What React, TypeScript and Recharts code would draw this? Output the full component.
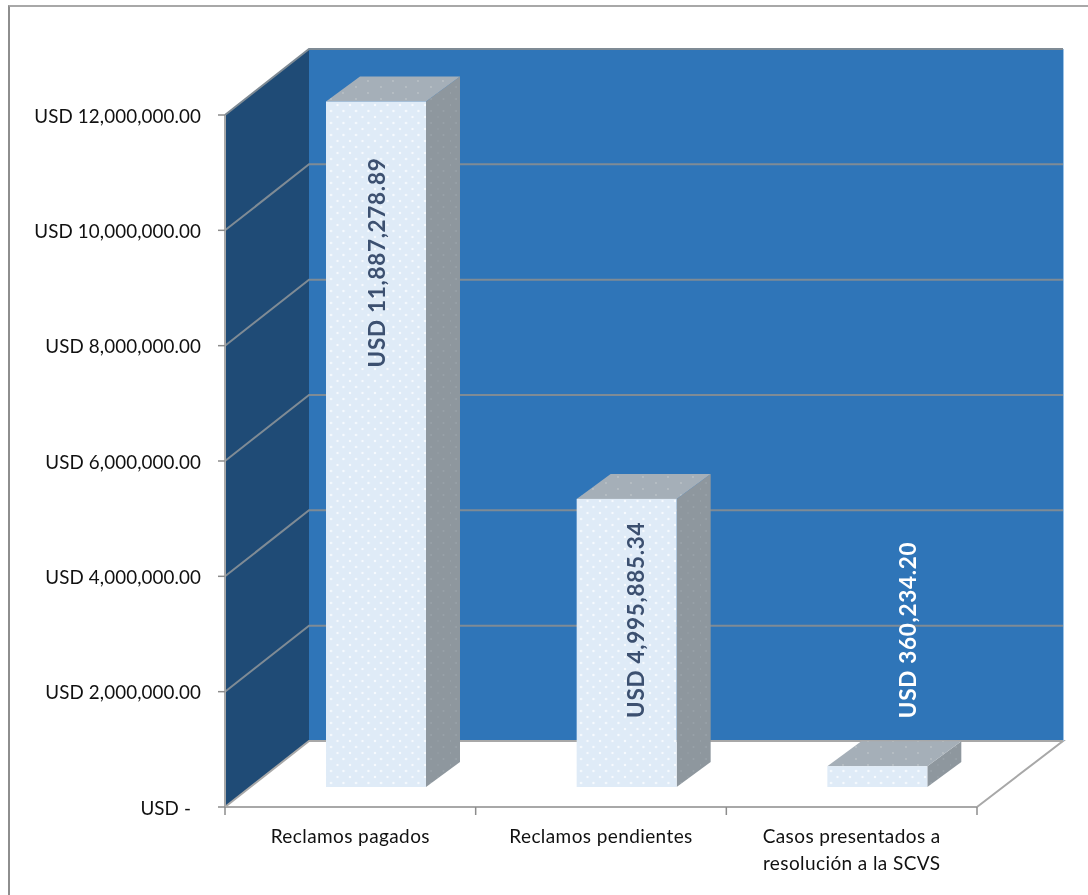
import React from "react";
import { BarChart, Bar, XAxis, YAxis, ReferenceArea, LabelList } from "recharts";

const categories = ["Reclamos pagados", "Reclamos pendientes", "Casos presentados a resolución a la SCVS"];
const categoryLines = [["Reclamos pagados"], ["Reclamos pendientes"], ["Casos presentados a", "resolución a la SCVS"]];
const values = [11887278.89, 4995885.34, 360234.2];
const valueLabels = ["USD 11,887,278.89", "USD 4,995,885.34", "USD 360,234.20"];
const yTicks = [0, 2000000, 4000000, 6000000, 8000000, 10000000, 12000000];
const yTickLabels = ["USD -", "USD 2,000,000.00", "USD 4,000,000.00", "USD 6,000,000.00", "USD 8,000,000.00", "USD 10,000,000.00", "USD 12,000,000.00"];

const data = categories.map((name, i) => ({ name, value: values[i], label: valueLabels[i] }));

const FONT = "Lato, 'Open Sans', sans-serif";
const WALL_DX = 84;
const WALL_DX_RIGHT = 86;
const WALL_DY = -66;
const BAR_DX = 26;
const BAR_DY = -20;
const SIDE_DX = 34;
const SIDE_DY = -25;
const LINE = "#7f8b95";
const labelPlacement = [
  { dx: 0, fromTop: 266, color: "#3c5070" },
  { dx: 9, fromTop: 219, color: "#3c5070" },
  { dx: 30, fromTop: -48, color: "#ffffff" },
];

const pts = (p: number[][]) => p.map((a) => a.join(",")).join(" ");

function Walls(props: any) {
  const { x, y, width, height } = props;
  const y0 = y + height;
  const r = x + width;
  const backR = r + WALL_DX_RIGHT;
  return (
    <g>
      <defs>
        <pattern id="dotsFront" width="12.5" height="12" patternUnits="userSpaceOnUse">
          <rect width="12.5" height="12" fill="#dfebf7" />
          <circle cx="6" cy="3" r="1.2" fill="#f7fbff" />
          <circle cx="0" cy="9" r="1.2" fill="#f7fbff" />
          <circle cx="12.5" cy="9" r="1.2" fill="#f7fbff" />
        </pattern>
        <pattern id="dotsSide" width="12.5" height="12" patternUnits="userSpaceOnUse">
          <rect width="12.5" height="12" fill="#8e979e" />
          <circle cx="6" cy="3" r="0.8" fill="#a2abb2" />
          <circle cx="0" cy="9" r="0.8" fill="#a2abb2" />
        </pattern>
        <pattern id="dotsTop" width="25" height="12" patternUnits="userSpaceOnUse">
          <rect width="25" height="12" fill="#a5afb8" />
          <circle cx="6" cy="3" r="0.9" fill="#bcc3c8" />
          <circle cx="18" cy="9" r="0.9" fill="#bcc3c8" />
        </pattern>
      </defs>
      <polygon points={pts([[x + WALL_DX, y + WALL_DY], [backR, y + WALL_DY], [backR, y0 + WALL_DY], [x + WALL_DX, y0 + WALL_DY]])} fill="#2f75b8" />
      <polygon points={pts([[x, y], [x + WALL_DX, y + WALL_DY], [x + WALL_DX, y0 + WALL_DY], [x, y0]])} fill="#1f4b76" />
      {yTicks.map((t) => {
        const ty = y0 - (height * t) / yTicks[yTicks.length - 1];
        return (
          <polyline
            key={t}
            points={pts([[x, ty], [x + WALL_DX, ty + WALL_DY], [backR, ty + WALL_DY], ...(t === 0 ? [[r, ty]] : [])])}
            fill="none"
            stroke={t === 0 ? "#a8a8a8" : LINE}
            strokeWidth={2}
          />
        );
      })}
      <line x1={backR + 0.5} y1={y + WALL_DY} x2={backR + 0.5} y2={y0 + WALL_DY} stroke="#9cc3e6" strokeWidth={1} />
    </g>
  );
}

function Bar3D(props: any) {
  const { x, y, width, height } = props;
  const l = x + BAR_DX;
  const r = l + width;
  const t = y + BAR_DY;
  const b = t + height;
  return (
    <g>
      <polygon points={pts([[r, t], [r + SIDE_DX, t + SIDE_DY], [r + SIDE_DX, b + SIDE_DY], [r, b]])} fill="url(#dotsSide)" />
      <polygon points={pts([[l, t], [l + SIDE_DX, t + SIDE_DY], [r + SIDE_DX, t + SIDE_DY], [r, t]])} fill="url(#dotsTop)" />
      <rect x={l} y={t} width={width} height={height} fill="url(#dotsFront)" />
    </g>
  );
}

function ValueLabel(props: any) {
  const { x, y, width, index } = props;
  const place = labelPlacement[index];
  const cx = x + BAR_DX + width / 2 + place.dx;
  const by = y + BAR_DY + place.fromTop;
  return (
    <text
      transform={`translate(${cx},${by}) rotate(-90)`}
      textAnchor="start"
      dominantBaseline="central"
      fontFamily={FONT}
      fontWeight={700}
      fontSize={22.5}
      letterSpacing={0.7}
      fill={place.color}
    >
      {valueLabels[index]}
    </text>
  );
}

function YTick(props: any) {
  const { x, y, index } = props;
  const isZero = yTicks[index] === 0;
  return (
    <text x={isZero ? x - 10 : x} y={y} textAnchor="end" dominantBaseline="central" fontFamily={FONT} fontSize={18.8} letterSpacing={0.1} fill="#111">
      {yTickLabels[index]}
    </text>
  );
}

function XTick(props: any) {
  const { x, y, index } = props;
  const band = 752 / categories.length;
  const edge = x - band / 2;
  return (
    <g>
      <line x1={edge} y1={807} x2={edge} y2={815} stroke="#8c8c8c" strokeWidth={1.5} />
      {index === categories.length - 1 && (
        <line x1={edge + band} y1={807} x2={edge + band} y2={815} stroke="#8c8c8c" strokeWidth={1.5} />
      )}
      {categoryLines[index].map((line, i) => (
        <text key={line} x={x} y={y + 20 + i * 27} textAnchor="middle" dominantBaseline="central" fontFamily={FONT} fontSize={19} letterSpacing={0.4} fill="#111">
          {line}
        </text>
      ))}
    </g>
  );
}

export default function App() {
  return (
    <div style={{ position: "absolute", left: 0, top: 0, width: 1088, height: 895, background: "#fff", filter: "blur(0.35px)" }}>
      <div style={{ position: "absolute", left: 8, top: 5, right: 0, bottom: 0, borderLeft: "2px solid #8e8e8e", borderTop: "2px solid #a8a8a8" }} />
      <div style={{ position: "absolute", left: 0, top: 0 }}>
        <BarChart width={1088} height={895} data={data} margin={{ left: 0, top: 115, right: 111, bottom: 0 }} barSize={100}>
          <XAxis dataKey="name" height={88} axisLine={{ stroke: "#a8a8a8", strokeWidth: 2 }} tickLine={false} interval={0} tick={<XTick />} />
          <YAxis
            width={225}
            domain={[0, 12000000]}
            ticks={yTicks}
            interval={0}
            axisLine={{ stroke: "#a8a8a8", strokeWidth: 2 }}
            tickLine={{ stroke: "#8c8c8c", strokeWidth: 1.5 }}
            tickSize={7}
            tickMargin={17}
            tick={<YTick />}
          />
          <ReferenceArea y1={0} y2={12000000} shape={<Walls />} ifOverflow="visible" />
          <Bar dataKey="value" isAnimationActive={false} shape={<Bar3D />}>
            <LabelList dataKey="label" content={<ValueLabel />} />
          </Bar>
        </BarChart>
      </div>
    </div>
  );
}
